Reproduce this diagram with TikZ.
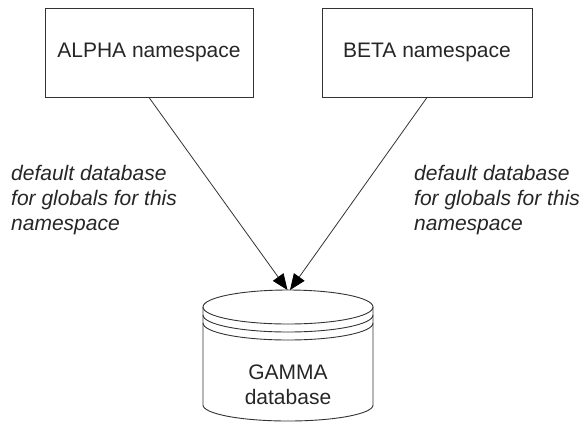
\documentclass[tikz,border=0pt]{standalone}
\usepackage{fontspec}
\setmainfont{Liberation Sans}
\usetikzlibrary{arrows.meta}
\tikzset{
  nsbox/.style={draw=black!80, line width=0.9pt, minimum height=89pt, inner sep=0pt, text=black!85, font=\fontsize{21}{25}\selectfont},
  conn/.style={draw=black!80, line width=0.8pt, -{Triangle[length=16pt,width=13pt,color=black]}},
  lbl/.style={align=left, inner sep=0pt, anchor=north west, text=black!85, font=\fontsize{21}{25}\selectfont\itshape},
  dbline/.style={draw=black!80, line width=0.9pt},
  dbtext/.style={align=center, inner sep=0pt, text=black!85, font=\fontsize{21}{25}\selectfont}
}
\begin{document}
\begin{tikzpicture}[x=1pt,y=-1pt]
\useasboundingbox (0,0) rectangle (585,424);
\node[nsbox, minimum width=208pt] (alpha) at (149,52.5) {ALPHA namespace};
\node[nsbox, minimum width=210pt] (beta) at (427,52.5) {BETA namespace};
% cylinder
\draw[dbline] (288,307) ellipse[x radius=85,y radius=17];
\draw[dbline] (203,307) -- (203,405) arc[start angle=180,end angle=0,x radius=85,y radius=16] -- (373,307);
\draw[dbline] (203,315) arc[start angle=180,end angle=0,x radius=85,y radius=17];
\draw[dbline] (203,323) arc[start angle=180,end angle=0,x radius=85,y radius=17];
\node[dbtext] (gamma) at (288,385) {GAMMA\\database};
\coordinate (tipL) at (287.5,290);
\coordinate (tipR) at (290,290);
\draw[conn] (alpha.south) -- (tipL);
\draw[conn] (beta.south) -- (tipR);
\node[lbl] (lblL) at (11,165) {default database\\for globals for this\\namespace};
\node[lbl] (lblR) at (414,165) {default database\\for globals for this\\namespace};
\end{tikzpicture}
\end{document}
